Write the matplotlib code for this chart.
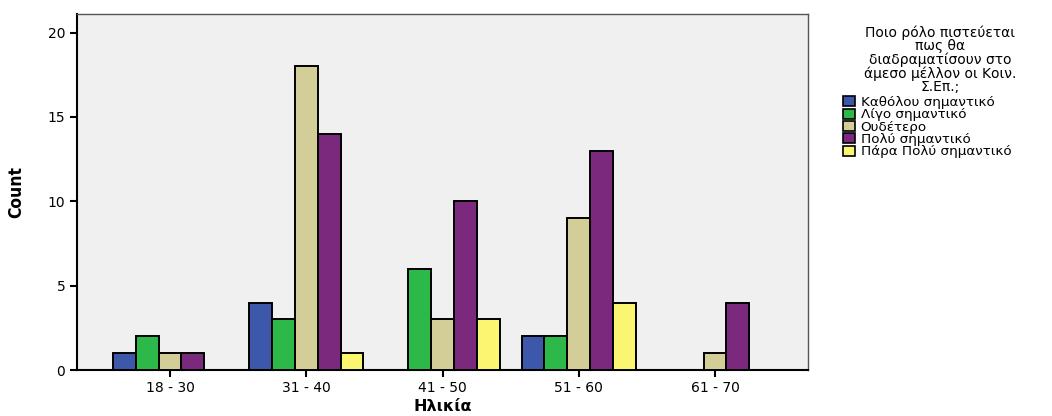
import numpy as np
import matplotlib
matplotlib.use("Agg")
import matplotlib.pyplot as plt

# age groups and answer counts
age_groups = ["18 - 30", "31 - 40", "41 - 50", "51 - 60", "61 - 70"]
answers = ["Καθόλου σημαντικό", "Λίγο σημαντικό", "Ουδέτερο",
           "Πολύ σημαντικό", "Πάρα Πολύ σημαντικό"]
katholou = [1, 4, 0, 2, 0]
ligo = [2, 3, 6, 2, 0]
oudetero = [1, 18, 3, 9, 1]
poly = [1, 14, 10, 13, 4]
para_poly = [0, 1, 3, 4, 0]
colors = ["#3D58AB", "#2DB84A", "#D3CE98", "#7B297C", "#FAF672"]

series = [katholou, ligo, oudetero, poly, para_poly]

fig = plt.figure(figsize=(10.52, 4.16), dpi=100)
ax = fig.add_axes([77 / 1052, 1 - 370 / 416, (808 - 77) / 1052, (370 - 14) / 416])
ax.set_facecolor("#F0F0F0")

x = np.arange(len(age_groups))
w = 0.168
handles = []
for i, (vals, name, c) in enumerate(zip(series, answers, colors)):
    pos = x + (i - 2) * w
    v = np.array(vals)
    keep = v > 0
    ax.bar(pos[keep], v[keep], width=w, color=c, edgecolor="black",
           linewidth=1.4, zorder=3)
    handles.append(plt.Rectangle((0, 0), 1, 1, facecolor=c,
                                 edgecolor="black", linewidth=1.2))

ax.set_xlim(-0.683, 4.683)
ax.set_ylim(0, 21.1)
ax.set_yticks([0, 5, 10, 15, 20])
ax.set_xticks(x)
ax.set_xticklabels(age_groups)
ax.tick_params(axis="both", direction="out", length=5, width=1.5,
               labelsize=10, colors="black")
ax.tick_params(axis="x", pad=3)
for s in ["left", "bottom"]:
    ax.spines[s].set_linewidth(1.5)
    ax.spines[s].set_color("black")
for s in ["top", "right"]:
    ax.spines[s].set_linewidth(1.0)
    ax.spines[s].set_color("#555555")

ax.set_ylabel("Count", family=["Liberation Sans Narrow", "DejaVu Sans"],
              fontstretch="condensed", fontweight="bold",
              fontsize=12.5, labelpad=16)
ax.set_xlabel("Ηλικία", fontweight="bold", fontsize=11.5, labelpad=3)

# legend title as separate text so the spacing can follow the original
title = "Ποιο ρόλο πιστεύεται\nπως θα\nδιαδραματίσουν στο\nάμεσο μέλλον οι Κοιν.\nΣ.Επ.;"
fig.text(940 / 1052, 1 - 25 / 416, title, ha="center", va="top",
         fontsize=10, linespacing=0.95, multialignment="center")

leg = fig.legend(handles, answers, loc="upper left",
                 bbox_to_anchor=(843 / 1052, 1 - 96 / 416),
                 frameon=False, fontsize=9.7,
                 handlelength=0.9, handleheight=0.75,
                 handletextpad=0.4, labelspacing=-0.05, borderaxespad=0,
                 borderpad=0)

fig.savefig("out.png", dpi=100)
